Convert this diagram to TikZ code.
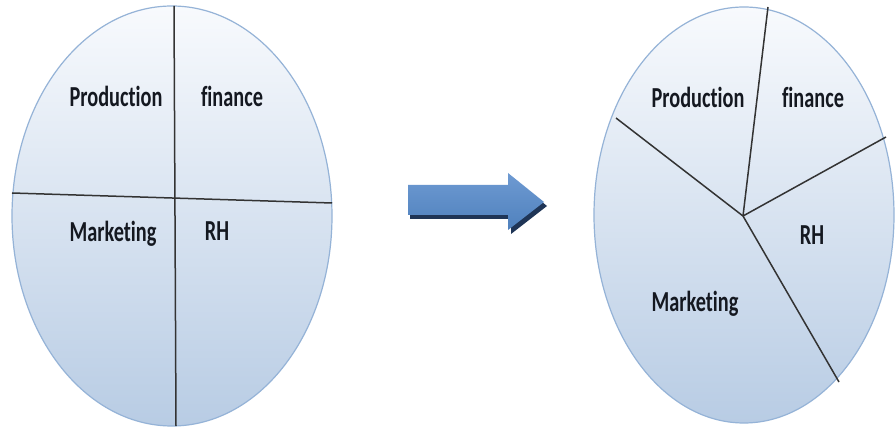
\documentclass[tikz,border=0pt]{standalone}
\usepackage{fontspec}
\setmainfont{Carlito}[Ligatures={NoCommon}]
\usetikzlibrary{shapes.geometric}
\definecolor{rimblue}{HTML}{95B3D7}
\definecolor{topfill}{HTML}{F8FAFD}
\definecolor{botfill}{HTML}{B8CCE4}
\definecolor{arrowblue}{HTML}{4F81BD}
\definecolor{arrowlight}{HTML}{6E9AD2}
\definecolor{arrowshadow}{HTML}{1F3556}
\definecolor{inktext}{HTML}{141820}
\tikzset{
  blob/.style={ellipse, draw=rimblue, line width=1.2pt, inner sep=0pt, outer sep=0pt,
    top color=topfill, bottom color=botfill, shading angle=0},
  divider/.style={draw=black!80, line width=1.5pt},
  label/.style={anchor=base, text=inktext, xscale=0.7,
    font=\fontsize{29}{32}\selectfont\bfseries, inner sep=0pt},
}
\begin{document}
\begin{tikzpicture}[x=1pt, y=-1pt]
  \useasboundingbox (0,0) rectangle (895,427);
  \fill[white] (0,0) rectangle (895,427);

  % left organisation: four equal quarters
  \node[blob, minimum width=320pt, minimum height=420pt] (L) at (172,216) {};
  \coordinate (Ltop) at (174,6);
  \coordinate (Lbot) at (176,426);
  \coordinate (Lwest) at (12,193);
  \coordinate (Least) at (332,203);
  \draw[divider] (Ltop) -- (Lbot);
  \draw[divider] (Lwest) -- (Least);
  \node[label] (lprod) at (116,107) {Production};
  \node[label] (lfin) at (232,107) {finance};
  \node[label] (lmkt) at (113,242) {Marketing};
  \node[label] (lrh) at (217,241) {RH};

  % transition arrow with its drop shadow
  \fill[arrowshadow] (410,189) -- (511,189) -- (511,177) -- (547,206) -- (511,234)
    -- (511,219) -- (410,219) -- cycle;
  \shade[top color=arrowlight, bottom color=arrowblue]
    (408,185) -- (508,185) -- (508,173) -- (544,202) -- (508,230)
    -- (508,215) -- (408,215) -- cycle;

  % right organisation: uneven slices
  \node[blob, minimum width=300pt, minimum height=416pt] (R) at (744,215) {};
  \coordinate (hub) at (743,216);
  \coordinate (Rtop) at (768,7);
  \coordinate (Rnw) at (616,118);
  \coordinate (Rne) at (886,137);
  \coordinate (Rse) at (839,382);
  \draw[divider] (hub) -- (Rtop);
  \draw[divider] (hub) -- (Rnw);
  \draw[divider] (hub) -- (Rne);
  \draw[divider] (hub) -- (Rse);
  \node[label] (rprod) at (698,108) {Production};
  \node[label] (rfin) at (813,108) {finance};
  \node[label] (rrh) at (812,245) {RH};
  \node[label] (rmkt) at (695,312) {Marketing};
\end{tikzpicture}
\end{document}
